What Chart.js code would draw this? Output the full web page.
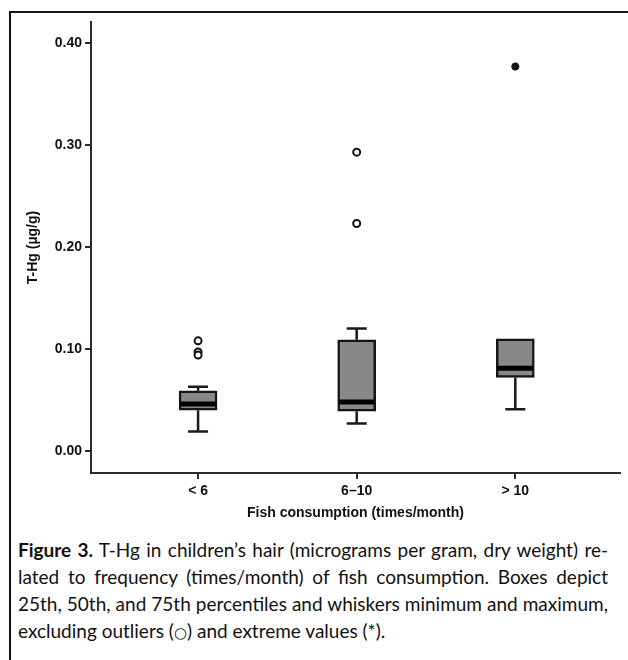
<!DOCTYPE html>
<html>
<head>
<meta charset="utf-8">
<script src="https://cdn.jsdelivr.net/npm/chart.js@4"></script>
<style>
  html, body { margin: 0; padding: 0; background: #fff; }
  body { width: 628px; height: 660px; position: relative; overflow: hidden; }
  #frameTop { position: absolute; left: 9px; top: 11px; width: 619px; height: 2px; background: #111; }
  #frameLeft { position: absolute; left: 9px; top: 11px; width: 2px; height: 649px; background: #111; }
  #c { position: absolute; left: 0; top: 0; }
  #caption { position: absolute; left: 18px; top: 536px; width: 590px;
    font-family: "Liberation Sans Narrow", "Lato", "Liberation Sans", sans-serif; font-size: 19px; color: #111; }
  #caption div { height: 27px; line-height: 27px; white-space: nowrap; text-align: justify; text-align-last: justify; }
  #caption div.last { text-align-last: left; }
  .ring { font-family: "DejaVu Sans", sans-serif; font-size: 15px; }
</style>
</head>
<body>
<div id="frameTop"></div>
<div id="frameLeft"></div>
<canvas id="c" width="628" height="530"></canvas>
<div id="caption">
  <div><b>Figure 3.</b> T-Hg in children’s hair (micrograms per gram, dry weight) re-</div>
  <div>lated to frequency (times/month) of fish consumption. Boxes depict</div>
  <div>25th, 50th, and 75th percentiles and whiskers minimum and maximum,</div>
  <div class="last">excluding outliers (<span class="ring">○</span>) and extreme values (*).</div>
</div>
<script>
// ---- data ----
const categories = ['< 6', '6–10', '> 10'];
const mins     = [0.019, 0.027, 0.041];
const q1s      = [0.040, 0.039, 0.072];
const medians  = [0.046, 0.048, 0.081];
const q3s      = [0.059, 0.109, 0.110];
const maxs     = [0.063, 0.120, 0.110];
const outliers = [[0.108, 0.097, 0.094], [0.293, 0.223], []];
const extremes = [[], [], [0.377]];
const yTicks   = [0.00, 0.10, 0.20, 0.30, 0.40];

// ---- build datasets ----
const capHalf = 0.063, boxHalf = 0.12;
const whiskerPts = [];
const medianPts = [];
categories.forEach((c, i) => {
  whiskerPts.push({x: i, y: mins[i]}, {x: i, y: q1s[i]}, {x: i, y: null});
  whiskerPts.push({x: i - capHalf, y: mins[i]}, {x: i + capHalf, y: mins[i]}, {x: i, y: null});
  if (maxs[i] > q3s[i]) {
    whiskerPts.push({x: i, y: q3s[i]}, {x: i, y: maxs[i]}, {x: i, y: null});
    whiskerPts.push({x: i - capHalf, y: maxs[i]}, {x: i + capHalf, y: maxs[i]}, {x: i, y: null});
  }
  medianPts.push({x: i - boxHalf + 0.01, y: medians[i]}, {x: i + boxHalf - 0.01, y: medians[i]}, {x: i, y: null});
});
const outlierPts = [];
outliers.forEach((arr, i) => arr.forEach(v => outlierPts.push({x: i, y: v})));
const extremePts = [];
extremes.forEach((arr, i) => arr.forEach(v => extremePts.push({x: i, y: v})));

const axisColor = '#2a2a2a';
const tickFont = {family: '"Liberation Sans", Arial, sans-serif', size: 14, weight: 'bold'};

new Chart(document.getElementById('c'), {
  type: 'bar',
  data: {
    datasets: [
      {
        type: 'bar',
        data: categories.map((c, i) => ({x: i, y: [q1s[i], q3s[i]]})),
        backgroundColor: '#888888',
        borderColor: '#151515',
        borderWidth: 2.5,
        borderSkipped: false,
        barThickness: 38,
        order: 3
      },
      {
        type: 'line',
        data: whiskerPts,
        borderColor: '#1a1a1a',
        borderWidth: 2.5,
        pointRadius: 0,
        spanGaps: false,
        fill: false,
        order: 4
      },
      {
        type: 'line',
        data: medianPts,
        borderColor: '#000',
        borderWidth: 5,
        pointRadius: 0,
        spanGaps: false,
        fill: false,
        order: 1
      },
      {
        type: 'line',
        data: outlierPts,
        showLine: false,
        pointStyle: 'circle',
        pointRadius: 3.5,
        pointBorderWidth: 2,
        pointBackgroundColor: '#fff',
        pointBorderColor: '#111',
        order: 0
      },
      {
        type: 'line',
        data: extremePts,
        showLine: false,
        pointStyle: 'star',
        pointRadius: 4,
        pointBorderWidth: 2.5,
        pointBackgroundColor: '#111',
        pointBorderColor: '#111',
        order: 0
      }
    ]
  },
  options: {
    responsive: false,
    animation: false,
    devicePixelRatio: 1,
    layout: {padding: {top: 22, right: 8, left: 0, bottom: 0}},
    plugins: {legend: {display: false}, tooltip: {enabled: false}},
    scales: {
      x: {
        type: 'linear',
        min: -0.675,
        max: 2.66,
        offset: false,
        afterBuildTicks: s => { s.ticks = categories.map((c, i) => ({value: i})); },
        afterFit: s => { s.height = 57; },
        grid: {display: true, offset: false, drawOnChartArea: false, drawTicks: true, tickLength: 6, color: axisColor, lineWidth: 2},
        border: {display: true, color: axisColor, width: 2},
        ticks: {
          callback: v => categories[v],
          font: tickFont, color: '#111', padding: 4, autoSkip: false, maxRotation: 0
        },
        title: {display: true, text: 'Fish consumption (times/month)', font: tickFont, color: '#111', padding: {top: 0, bottom: 8}}
      },
      y: {
        min: -0.0216,
        max: 0.4206,
        afterBuildTicks: s => { s.ticks = yTicks.map(v => ({value: v})); },
        afterFit: s => { s.width = 91; },
        grid: {display: true, drawOnChartArea: false, drawTicks: true, tickLength: 6, color: axisColor, lineWidth: 2},
        border: {display: true, color: axisColor, width: 2},
        ticks: {callback: v => Number(v).toFixed(2), font: tickFont, color: '#111', padding: 3},
        title: {display: true, text: 'T-Hg (µg/g)', font: {family: '"Liberation Sans", Arial, sans-serif', size: 14, weight: 'bold'}, color: '#111', padding: {top: 25, bottom: 0}}
      }
    }
  }
});
</script>
</body>
</html>
